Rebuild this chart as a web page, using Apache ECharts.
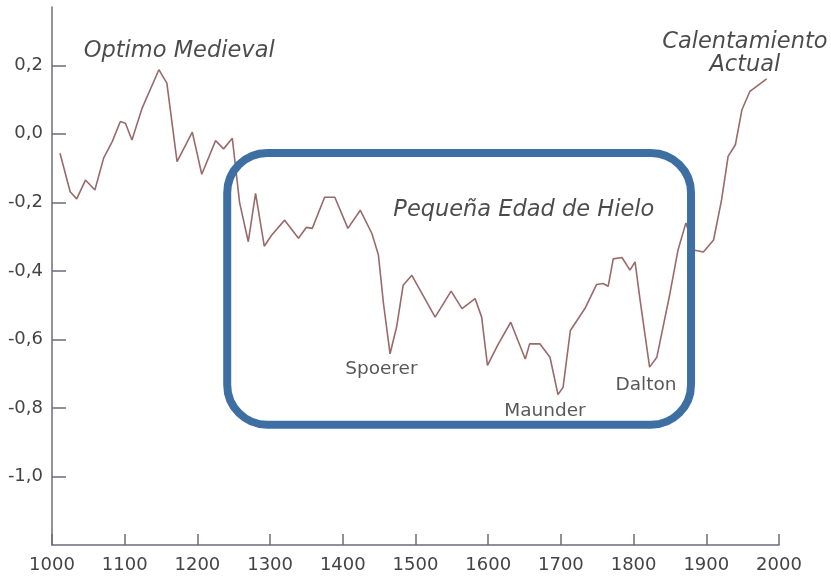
<!DOCTYPE html>
<html>
<head>
<meta charset="utf-8">
<script src="https://cdn.jsdelivr.net/npm/echarts@6/dist/echarts.min.js"></script>
<style>
    html, body { margin: 0; padding: 0; background: #fff; }
    #chart { width: 831px; height: 576px; }
</style>
</head>
<body>
<div id="chart"></div>
<script>
    // anomalía de temperatura (°C) por año
    const years = [1011, 1025, 1034, 1046, 1059, 1071, 1083, 1094, 1101, 1110, 1124, 1147, 1158, 1172, 1193, 1206, 1225, 1236, 1248, 1258,
        1270, 1280, 1292, 1302, 1320, 1339, 1350, 1358, 1375, 1389, 1407, 1424, 1440, 1449, 1456, 1465, 1474, 1483, 1495, 1527,
        1549, 1564, 1582, 1591, 1599, 1614, 1631, 1651, 1657, 1671, 1685, 1696, 1703, 1713, 1733, 1749, 1758, 1765, 1772, 1784,
        1795, 1802, 1809, 1822, 1832, 1850, 1861, 1872, 1884, 1896, 1910, 1921, 1930, 1940, 1949, 1960, 1983];
    const anomalies = [-0.057, -0.169, -0.19, -0.135, -0.164, -0.071, -0.022, 0.036, 0.031, -0.018, 0.075, 0.187, 0.148, -0.081, 0.005, -0.118, -0.02, -0.044, -0.013, -0.2,
        -0.315, -0.174, -0.328, -0.296, -0.252, -0.305, -0.273, -0.276, -0.185, -0.185, -0.276, -0.223, -0.291, -0.354, -0.496, -0.642, -0.564, -0.442, -0.413, -0.535,
        -0.459, -0.51, -0.481, -0.535, -0.676, -0.613, -0.55, -0.657, -0.613, -0.613, -0.652, -0.761, -0.74, -0.574, -0.51, -0.44, -0.437, -0.445, -0.365, -0.361,
        -0.398, -0.374, -0.486, -0.681, -0.652, -0.466, -0.34, -0.26, -0.34, -0.345, -0.31, -0.193, -0.066, -0.032, 0.07, 0.124, 0.16];

    const yTicks = [-1.0, -0.8, -0.6, -0.4, -0.2, 0.0, 0.2];

    // periodos (texto grande en cursiva) y mínimos solares
    const periodNames = ['Optimo Medieval', 'Calentamiento\nActual', 'Pequeña Edad de Hielo'];
    const periodYears = [1175, 1953, 1649];
    const periodValues = [0.24, 0.235, -0.222];
    const minimumNames = ['Spoerer', 'Maunder', 'Dalton'];
    const minimumYears = [1453, 1678, 1817];
    const minimumValues = [-0.687, -0.81, -0.733];

    // recuadro de la Pequeña Edad de Hielo
    const boxYears = [1241, 1879];
    const boxValues = [-0.056, -0.849];

    const font = 'DejaVu Sans';
    const axisColor = '#6c6c7c';

    const chart = echarts.init(document.getElementById('chart'));

    const toPoints = (xs, ys, names) => xs.map((x, i) => ({ name: names ? names[i] : '', value: [x, ys[i]] }));

    const option = {
        animation: false,
        backgroundColor: '#fff',
        grid: { left: 52, right: 52, top: 7, bottom: 31, containLabel: false },
        xAxis: {
            type: 'value',
            min: 1000,
            max: 2000,
            interval: 100,
            splitLine: { show: false },
            axisLine: { onZero: false, lineStyle: { color: axisColor, width: 1.5 } },
            axisTick: { inside: true, length: 11, lineStyle: { color: axisColor, width: 1.5 } },
            axisLabel: {
                margin: 11,
                color: '#444',
                fontSize: 18,
                fontFamily: font,
                formatter: (v) => String(v),
            },
        },
        yAxis: {
            type: 'value',
            min: -1.2,
            max: 0.37,
            interval: 0.2,
            splitLine: { show: false },
            axisLine: { show: true, onZero: false, lineStyle: { color: axisColor, width: 1.5 } },
            axisTick: { show: true, inside: true, length: 14, customValues: yTicks, lineStyle: { color: axisColor, width: 1.5 } },
            axisLabel: {
                margin: 9,
                color: '#444',
                fontSize: 18,
                fontFamily: font,
                customValues: yTicks,
                formatter: (v) => v.toFixed(1).replace('.', ','),
            },
        },
        series: [
            {
                name: 'Anomalía',
                type: 'line',
                data: years.map((y, i) => [y, anomalies[i]]),
                showSymbol: false,
                lineStyle: { color: '#9a6a6a', width: 1.6 },
                z: 3,
            },
            {
                name: 'Periodos',
                type: 'scatter',
                symbolSize: 0,
                data: toPoints(periodYears, periodValues, periodNames),
                label: {
                    show: true,
                    position: 'inside',
                    formatter: '{b}',
                    color: '#1e1e1e',
                    fontSize: 22.5,
                    fontStyle: 'italic',
                    fontFamily: font,
                    lineHeight: 23,
                    align: 'center',
                },
            },
            {
                name: 'Minimos',
                type: 'scatter',
                symbolSize: 0,
                data: toPoints(minimumYears, minimumValues, minimumNames),
                label: {
                    show: true,
                    position: 'inside',
                    formatter: '{b}',
                    color: '#2e2e2e',
                    fontSize: 18.5,
                    fontFamily: font,
                },
            },
        ],
    };

    chart.setOption(option);

    // recuadro redondeado en coordenadas de datos
    const p1 = chart.convertToPixel({ gridIndex: 0 }, [boxYears[0], boxValues[0]]);
    const p2 = chart.convertToPixel({ gridIndex: 0 }, [boxYears[1], boxValues[1]]);
    chart.setOption({
        graphic: [
            {
                type: 'rect',
                shape: { x: p1[0], y: p1[1], width: p2[0] - p1[0], height: p2[1] - p1[1], r: 40 },
                style: { fill: 'none', stroke: '#3e6fa2', lineWidth: 8 },
                z: 10,
            },
        ],
    });
</script>
</body>
</html>
